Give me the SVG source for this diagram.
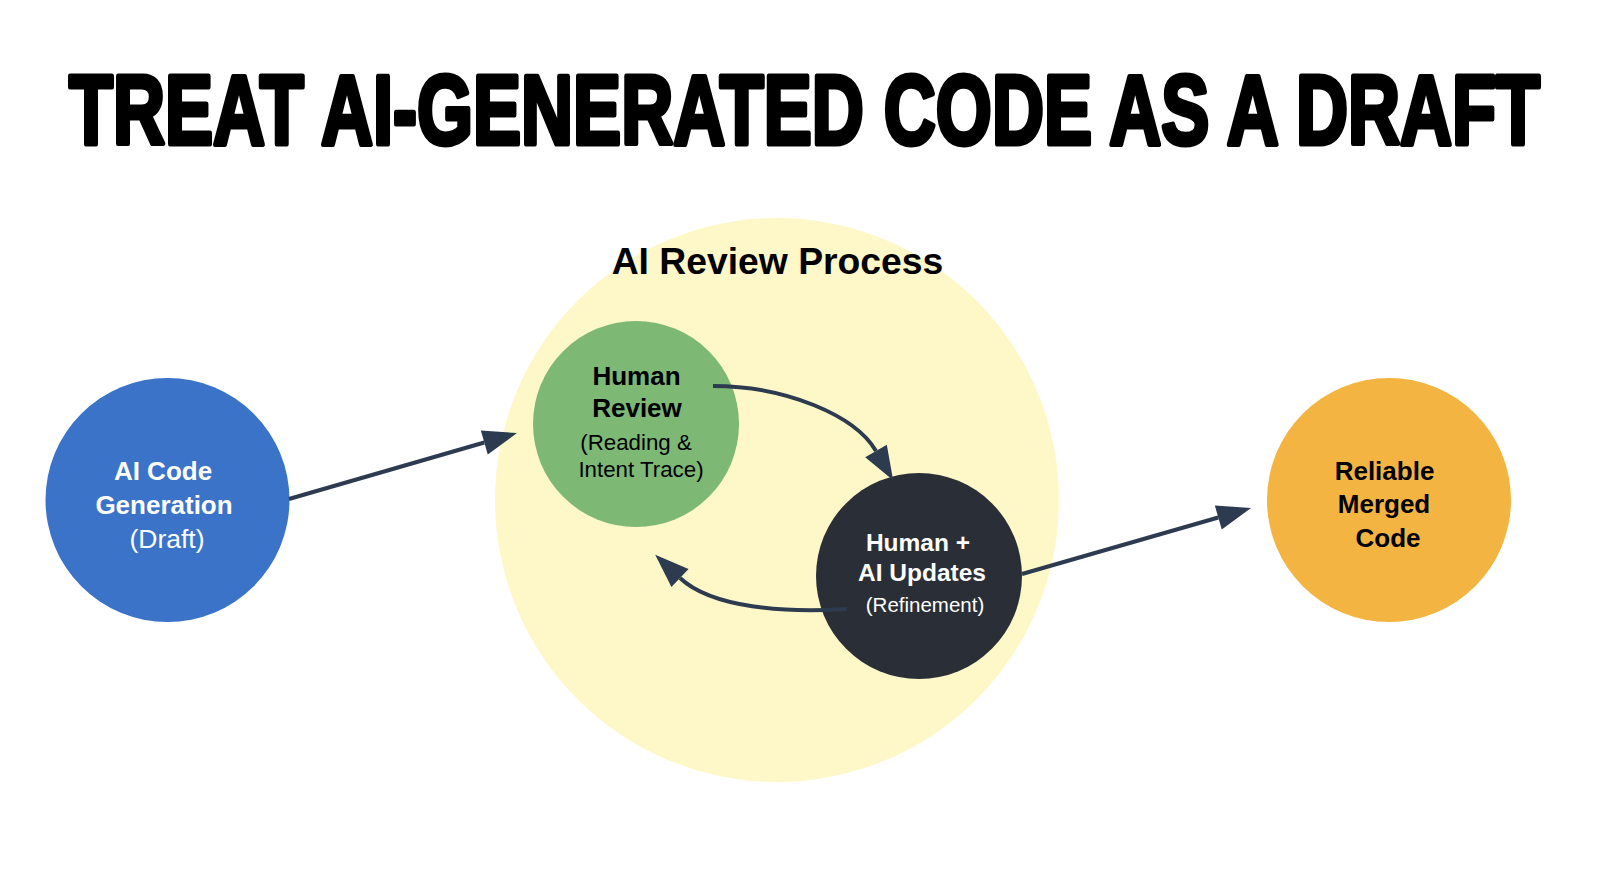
<svg xmlns="http://www.w3.org/2000/svg" width="1600" height="895" viewBox="0 0 1600 895">
<style>
.title{font-family:"Liberation Sans Narrow","Liberation Sans",Arial,sans-serif;font-weight:bold;font-size:99px;fill:#000;stroke:#000;stroke-width:5px;stroke-linejoin:round}
.lbl{font-family:"Liberation Sans",Arial,sans-serif;text-anchor:middle}
.b{font-weight:bold;font-size:26px}
.b2{font-weight:bold;font-size:24.5px}
.w{fill:#fff}
.k{fill:#000}
.conn{fill:none;stroke:#2d3b50;stroke-width:4}
</style>
<defs>
<marker id="ah" markerUnits="userSpaceOnUse" markerWidth="36" markerHeight="28" refX="0" refY="14" orient="auto" overflow="visible">
<path d="M0,1.5 L34,14 L0,26.5 Z" fill="#2d3b50"/>
</marker>
</defs>
<rect width="1600" height="895" fill="#fff"/>
<text class="title" x="69" y="143.5" textLength="1471" lengthAdjust="spacingAndGlyphs">TREAT AI-GENERATED CODE AS A DRAFT</text>
<g id="review-process">
<circle cx="777" cy="500" r="282" fill="#fef8c9"/>
<text class="lbl" x="777.5" y="274" style="font-weight:bold;font-size:37.3px" fill="#000">AI Review Process</text>
</g>
<g id="ai-code-generation">
<circle cx="167.5" cy="500" r="122" fill="#3b73c9"/>
<text class="lbl b w" x="163" y="480">AI Code</text>
<text class="lbl b w" x="164" y="514">Generation</text>
<text class="lbl w" x="167" y="548" style="font-size:26.5px">(Draft)</text>
</g>
<g id="human-review">
<circle cx="636" cy="424" r="103" fill="#7db874"/>
<text class="lbl b k" x="636.5" y="385">Human</text>
<text class="lbl b k" x="637" y="417">Review</text>
<text class="lbl k" x="636" y="450" style="font-size:22.3px">(Reading &amp;</text>
<text class="lbl k" x="641" y="477" style="font-size:22.3px">Intent Trace)</text>
</g>
<g id="human-ai-updates">
<circle cx="919" cy="576" r="103" fill="#2a2f37"/>
<text class="lbl b2 w" x="918" y="551">Human +</text>
<text class="lbl b2 w" x="922" y="581">AI Updates</text>
<text class="lbl w" x="925" y="612" style="font-size:20.5px">(Refinement)</text>
</g>
<g id="reliable-merged-code">
<circle cx="1389" cy="500" r="122" fill="#f3b441"/>
<text class="lbl b k" x="1384.5" y="480">Reliable</text>
<text class="lbl b k" x="1384" y="513">Merged</text>
<text class="lbl b k" x="1388" y="547">Code</text>
</g>
<g id="connectors">
<path class="conn" d="M289,499 L484.3,442.5" marker-end="url(#ah)"/>
<path class="conn" d="M713,386 C785,386 855,415 876,451" marker-end="url(#ah)"/>
<path class="conn" d="M847,609 C785,613 712,608 680,578" marker-end="url(#ah)"/>
<path class="conn" d="M1022,574 L1218.3,517.5" marker-end="url(#ah)"/>
</g>
</svg>
